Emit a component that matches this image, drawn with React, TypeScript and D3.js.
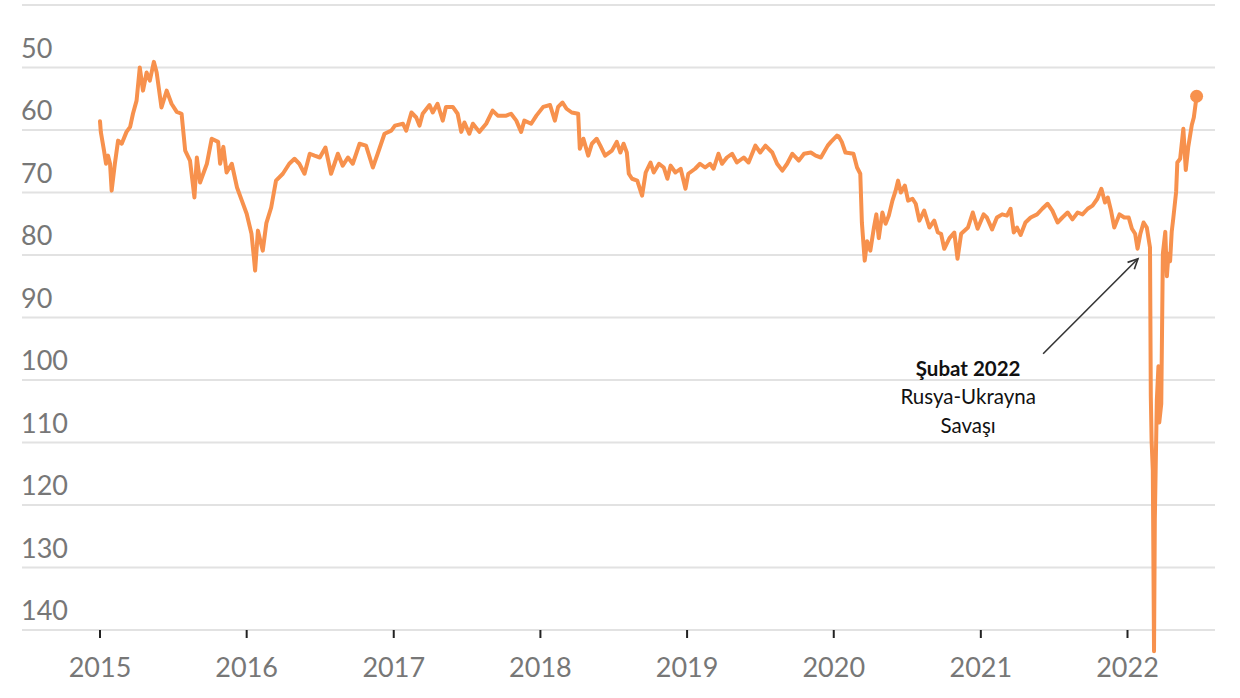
import * as d3 from 'd3';

// USD/RUB, inverted axis
const dates = [
  '2015-01-01', '2015-01-03', '2015-01-11', '2015-01-16', '2015-01-21', '2015-01-26', '2015-01-30',
  '2015-02-07', '2015-02-15', '2015-02-24', '2015-03-08', '2015-03-17', '2015-03-24', '2015-04-02',
  '2015-04-10', '2015-04-18', '2015-04-27', '2015-05-05', '2015-05-15', '2015-05-22', '2015-06-03',
  '2015-06-16', '2015-06-28', '2015-07-11', '2015-07-23', '2015-08-01', '2015-08-13', '2015-08-24',
  '2015-08-30', '2015-09-07', '2015-09-24', '2015-10-06', '2015-10-22', '2015-10-27', '2015-11-04',
  '2015-11-12', '2015-11-25', '2015-12-08', '2015-12-20',
  '2016-01-01', '2016-01-13', '2016-01-19', '2016-01-22', '2016-01-29', '2016-02-10', '2016-02-19',
  '2016-03-02', '2016-03-14', '2016-03-31', '2016-04-16', '2016-04-29', '2016-05-11', '2016-05-24',
  '2016-06-06', '2016-06-18', '2016-07-01', '2016-07-15', '2016-07-29', '2016-08-15', '2016-08-27',
  '2016-09-09', '2016-09-21', '2016-10-08', '2016-10-24', '2016-11-10', '2016-11-22', '2016-12-09',
  '2016-12-26',
  '2017-01-04', '2017-01-24', '2017-02-01', '2017-02-14', '2017-02-26', '2017-03-06', '2017-03-14',
  '2017-03-31', '2017-04-08', '2017-04-20', '2017-05-03', '2017-05-11', '2017-05-28', '2017-06-09',
  '2017-06-18', '2017-06-26', '2017-07-08', '2017-07-17', '2017-08-02', '2017-08-19', '2017-09-04',
  '2017-09-17', '2017-10-08', '2017-10-20', '2017-11-02', '2017-11-14', '2017-11-22', '2017-12-09',
  '2017-12-22',
  '2018-01-08', '2018-01-25', '2018-02-06', '2018-02-14', '2018-02-25', '2018-03-07', '2018-03-20',
  '2018-04-05', '2018-04-09', '2018-04-18', '2018-04-30', '2018-05-09', '2018-05-21', '2018-05-30',
  '2018-06-11', '2018-06-28', '2018-07-10', '2018-07-19', '2018-07-27', '2018-08-04', '2018-08-09',
  '2018-08-17', '2018-08-30', '2018-09-11', '2018-09-20', '2018-10-02', '2018-10-10', '2018-10-23',
  '2018-11-04', '2018-11-13', '2018-11-21', '2018-12-03', '2018-12-16', '2018-12-28',
  '2019-01-04', '2019-01-21', '2019-02-02', '2019-02-15', '2019-02-27', '2019-03-08', '2019-03-20',
  '2019-03-29', '2019-04-10', '2019-04-23', '2019-05-05', '2019-05-22', '2019-06-03', '2019-06-20',
  '2019-07-02', '2019-07-15', '2019-08-01', '2019-08-13', '2019-08-26', '2019-09-07', '2019-09-20',
  '2019-10-06', '2019-10-19', '2019-11-05', '2019-11-17', '2019-11-30', '2019-12-17', '2019-12-25',
  '2020-01-09', '2020-01-13', '2020-01-21', '2020-01-30', '2020-02-19', '2020-02-28', '2020-03-07',
  '2020-03-11', '2020-03-18', '2020-03-24', '2020-04-01', '2020-04-10', '2020-04-16', '2020-04-22',
  '2020-05-01', '2020-05-09', '2020-05-17', '2020-05-26', '2020-06-03', '2020-06-09', '2020-06-16',
  '2020-06-26', '2020-07-04', '2020-07-15', '2020-07-23', '2020-08-01', '2020-08-13', '2020-08-26',
  '2020-09-07', '2020-09-16', '2020-09-24', '2020-10-02', '2020-10-15', '2020-10-27', '2020-11-04',
  '2020-11-13', '2020-11-30', '2020-12-12', '2020-12-24',
  '2021-01-08', '2021-01-16', '2021-01-29', '2021-02-10', '2021-02-23', '2021-03-07', '2021-03-16',
  '2021-03-24', '2021-04-01', '2021-04-10', '2021-04-22', '2021-05-05', '2021-05-21', '2021-06-03',
  '2021-06-16', '2021-06-28', '2021-07-11', '2021-07-23', '2021-08-05', '2021-08-17', '2021-08-30',
  '2021-09-11', '2021-09-24', '2021-10-06', '2021-10-18', '2021-10-28', '2021-11-06', '2021-11-13',
  '2021-11-21', '2021-11-29', '2021-12-12', '2021-12-24',
  '2022-01-04', '2022-01-12', '2022-01-20', '2022-01-26', '2022-02-02', '2022-02-10', '2022-02-18',
  '2022-02-26', '2022-02-28', '2022-03-02', '2022-03-05', '2022-03-08', '2022-03-10', '2022-03-15',
  '2022-03-19', '2022-03-21', '2022-03-26', '2022-03-30', '2022-04-05', '2022-04-09', '2022-04-13',
  '2022-04-17', '2022-04-21', '2022-04-25', '2022-05-02', '2022-05-05', '2022-05-12', '2022-05-20',
  '2022-05-26', '2022-06-01', '2022-06-10', '2022-06-15', '2022-06-22',
];

const rates = [
  58.6, 60.3, 63.3, 65.4, 64.1, 65.4, 69.7,
  65.4, 61.7, 62.2, 60.3, 59.5, 57.4, 55.3,
  50.0, 53.7, 50.8, 52.1, 49.1, 50.8, 56.4,
  53.7, 55.8, 57.1, 57.4, 63.3, 64.9, 70.8,
  64.4, 68.4, 65.4, 61.4, 61.9, 65.4, 62.7,
  66.8, 65.4, 69.2, 71.3,
  73.4, 76.6, 80.4, 82.5, 76.1, 79.3, 74.9,
  72.4, 68.1, 67.0, 65.4, 64.6, 65.4, 67.0,
  63.8, 64.1, 64.4, 62.8, 67.0, 63.8, 65.7,
  64.4, 65.4, 62.2, 62.5, 66.0, 63.8, 60.6,
  60.1,
  59.3, 59.0, 60.1, 57.2, 58.0, 59.3, 57.4,
  56.0, 57.2, 55.8, 58.5, 56.3, 56.3, 57.4,
  60.3, 58.8, 60.6, 59.0, 60.3, 59.0, 56.9,
  57.7, 57.7, 57.4, 58.5, 60.3, 58.5, 59.0,
  57.7,
  56.3, 56.0, 58.5, 56.3, 55.6, 56.6, 57.2,
  57.4, 63.0, 61.4, 64.1, 62.2, 61.4, 62.5,
  64.1, 63.3, 61.9, 63.6, 62.2, 63.6, 67.0,
  67.8, 68.1, 70.5, 66.8, 65.2, 66.8, 65.4,
  66.0, 67.8, 65.7, 66.8, 66.2, 69.4,
  67.0, 66.2, 65.4, 66.0, 65.4, 66.2, 63.8,
  65.4, 64.4, 63.8, 65.2, 64.4, 65.2, 62.5,
  63.6, 62.5, 63.6, 65.4, 66.5, 65.4, 63.8,
  64.9, 63.8, 63.6, 64.1, 64.4, 62.5, 61.9,
  60.9, 61.0, 61.9, 63.6, 63.8, 66.0, 67.0,
  74.8, 80.9, 77.8, 79.3, 75.6, 73.5, 77.3,
  73.2, 75.0, 73.7, 71.3, 69.7, 68.1, 70.0,
  68.9, 71.3, 71.0, 71.8, 74.5, 72.9, 75.6,
  74.5, 76.4, 76.6, 79.0, 77.3, 76.4, 80.6,
  76.6, 75.6, 73.2, 75.8,
  73.5, 74.0, 75.9, 74.0, 73.5, 73.7, 72.6,
  76.4, 75.6, 76.8, 74.8, 74.0, 73.5, 72.6,
  71.8, 72.9, 74.8, 74.0, 73.2, 74.3, 73.2,
  73.5, 72.6, 72.1, 71.0, 69.4, 71.6, 70.8,
  72.9, 75.6, 73.5, 74.0,
  74.0, 75.8, 76.6, 79.0, 76.6, 74.8, 75.6,
  78.8, 102.6, 109.8, 114.5, 143.4, 122.3, 103.2,
  97.8, 106.8, 103.8, 79.8, 76.3, 83.4, 79.8,
  81.0, 76.3, 74.1, 69.9, 65.2, 64.6, 59.8,
  66.4, 62.8, 59.2, 58.0, 54.6,
];

const gridValues = [40, 50, 60, 70, 80, 90, 100, 110, 120, 130, 140];
const yTickValues = [50, 60, 70, 80, 90, 100, 110, 120, 130, 140];
const yearTicks = [2015, 2016, 2017, 2018, 2019, 2020, 2021, 2022];

const noteLines = ['Şubat 2022', 'Rusya-Ukrayna', 'Savaşı'];
const noteTargetDate = '2022-01-27';
const noteTargetValue = 80.6;
const noteTailDate = '2021-06-05';
const noteTailValue = 95.8;

const W = 1240;
const H = 698;
const ORANGE = '#f7914d';
const parse = d3.timeParse('%Y-%m-%d');

export default function App() {
  const points = dates.map((d, i) => ({ date: parse(d) as Date, value: rates[i] }));

  const x = d3
    .scaleTime()
    .domain([new Date(2015, 0, 1), new Date(2022, 0, 1)])
    .range([100, 1127.5]);
  const y = d3.scaleLinear().domain([40, 140]).range([5, 630]);

  const line = d3
    .line<{ date: Date; value: number }>()
    .x((d) => x(d.date))
    .y((d) => y(d.value));

  const last = points[points.length - 1];

  const tipX = x(parse(noteTargetDate) as Date);
  const tipY = y(noteTargetValue);
  const tailX = x(parse(noteTailDate) as Date);
  const tailY = y(noteTailValue);
  const ang = Math.atan2(tipY - tailY, tipX - tailX);
  const head = 11;
  const spread = 0.45;
  const h1 = [tipX - head * Math.cos(ang - spread), tipY - head * Math.sin(ang - spread)];
  const h2 = [tipX - head * Math.cos(ang + spread), tipY - head * Math.sin(ang + spread)];

  return (
    <>
      <style>{'body{margin:0;background:#fff}'}</style>
      <svg width={W} height={H} style={{ display: 'block' }}>
        {gridValues.map((v) => (
          <line key={v} x1={22} x2={1215} y1={y(v)} y2={y(v)} stroke="#e2e2e2" strokeWidth={2} />
        ))}
        {yTickValues.map((v) => (
          <text
            key={v}
            x={21}
            y={y(v) - 10}
            fontFamily="Lato, sans-serif"
            fontSize={27}
            fill="#777"
          >
            {v}
          </text>
        ))}
        {yearTicks.map((yr) => {
          const px = x(new Date(yr, 0, 1));
          return (
            <g key={yr}>
              <line x1={px} x2={px} y1={630} y2={638} stroke="#222" strokeWidth={2} />
              <text
                x={px}
                y={677}
                textAnchor="middle"
                fontFamily="Lato, sans-serif"
                fontSize={27}
                fill="#777"
              >
                {yr}
              </text>
            </g>
          );
        })}
        <path
          d={line(points) ?? ''}
          fill="none"
          stroke={ORANGE}
          strokeWidth={4}
          strokeLinejoin="round"
          strokeLinecap="round"
        />
        <circle cx={x(last.date)} cy={y(last.value)} r={6.5} fill={ORANGE} />

        <line x1={tailX} y1={tailY} x2={tipX} y2={tipY} stroke="#333" strokeWidth={1.6} />
        <polyline
          points={`${h1[0]},${h1[1]} ${tipX},${tipY} ${h2[0]},${h2[1]}`}
          fill="none"
          stroke="#333"
          strokeWidth={1.6}
        />
        {noteLines.map((t, i) => (
          <text
            key={t}
            x={tailX - 75}
            y={tailY + 22 + i * 28.5}
            textAnchor="middle"
            fontFamily="Lato, sans-serif"
            fontSize={20.5}
            fontWeight={i === 0 ? 700 : 400}
            fill="#111"
          >
            {t}
          </text>
        ))}
      </svg>
    </>
  );
}
